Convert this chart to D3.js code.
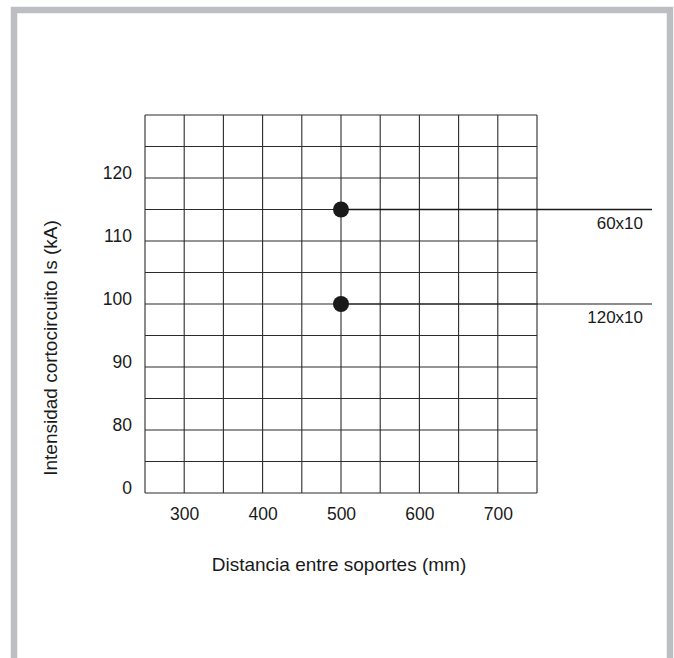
<!DOCTYPE html>
<html>
<head>
<meta charset="utf-8">
<script src="https://cdn.jsdelivr.net/npm/d3@7"></script>
<style>
  body { margin: 0; background: #fff; }
  text { font-family: "Liberation Sans", Arial, Helvetica, sans-serif; fill: #1a1a1a; }
</style>
</head>
<body>
<script>
// datos
var xTicks = [300, 400, 500, 600, 700];
var yTicks = [70, 80, 90, 100, 110, 120];          // 70 = corte del eje, se rotula "0"
var yTickLabels = ["0", "80", "90", "100", "110", "120"];
var barras = ["60x10", "120x10"];
var distancia = [500, 500];
var intensidad = [115, 100];

var W = 674, H = 658;
var gLeft = 145, gRight = 537, gTop = 115, gBottom = 493;

var svg = d3.select("body").append("svg")
    .attr("width", W)
    .attr("height", H);

// marco gris
svg.append("path")
    .attr("d", "M14,658 L14,10 L670,10 L670,658")
    .attr("fill", "none")
    .attr("stroke", "#bdbec1")
    .attr("stroke-width", 6.5);

var x = d3.scaleLinear().domain([250, 750]).range([gLeft, gRight]);
var y = d3.scaleLinear().domain([70, 130]).range([gBottom, gTop]);

// cuadricula: una linea cada 50 mm y cada 5 kA
var g = svg.append("g");
g.selectAll("line.v")
    .data(d3.range(250, 751, 50))
    .enter().append("line")
    .attr("class", "v")
    .attr("x1", d => x(d)).attr("x2", d => x(d))
    .attr("y1", gTop).attr("y2", gBottom)
    .attr("stroke", "#2b2b2b")
    .attr("stroke-width", 1.1);
g.selectAll("line.h")
    .data(d3.range(70, 131, 5))
    .enter().append("line")
    .attr("class", "h")
    .attr("x1", gLeft).attr("x2", gRight)
    .attr("y1", d => y(d)).attr("y2", d => y(d))
    .attr("stroke", "#2b2b2b")
    .attr("stroke-width", 1.1);

// ejes (solo textos)
var xAxis = svg.append("g")
    .attr("transform", "translate(0," + (gBottom + 27) + ")")
    .call(d3.axisBottom(x).tickValues(xTicks).tickSize(0).tickPadding(0));
xAxis.select(".domain").remove();
xAxis.selectAll("text")
    .attr("dy", 0)
    .attr("y", 0)
    .attr("font-size", 17.5)
    .attr("fill", "#1a1a1a");

var yAxis = svg.append("g")
    .attr("transform", "translate(" + (gLeft - 13) + ",0)")
    .call(d3.axisLeft(y).tickValues(yTicks).tickSize(0).tickPadding(0)
        .tickFormat((d, i) => yTickLabels[i]));
yAxis.select(".domain").remove();
yAxis.selectAll("text")
    .attr("dy", 0)
    .attr("x", 0)
    .attr("font-size", 17.5)
    .attr("fill", "#1a1a1a");

// lineas de referencia y puntos
var leaderEnd = gRight + 115;
var pts = svg.append("g");
barras.forEach(function(b, i){
    pts.append("line")
        .attr("x1", x(distancia[i])).attr("x2", leaderEnd)
        .attr("y1", y(intensidad[i])).attr("y2", y(intensidad[i]))
        .attr("stroke", "#1a1a1a")
        .attr("stroke-width", i == 0 ? 1.6 : 1.1);
    pts.append("circle")
        .attr("cx", x(distancia[i]))
        .attr("cy", y(intensidad[i]))
        .attr("r", 8)
        .attr("fill", "#1a1a1a");
    pts.append("text")
        .attr("x", leaderEnd - 9)
        .attr("y", y(intensidad[i]) + 19)
        .attr("text-anchor", "end")
        .attr("font-size", 17)
        .text(b);
});

// titulos
svg.append("text")
    .attr("x", (gLeft + gRight) / 2 - 2)
    .attr("y", 571)
    .attr("text-anchor", "middle")
    .attr("font-size", 19)
    .text("Distancia entre soportes (mm)");

svg.append("text")
    .attr("transform", "translate(57," + (gBottom - 145) + ") rotate(-90)")
    .attr("text-anchor", "middle")
    .attr("font-size", 19)
    .text("Intensidad cortocircuito Is (kA)");
</script>
</body>
</html>
